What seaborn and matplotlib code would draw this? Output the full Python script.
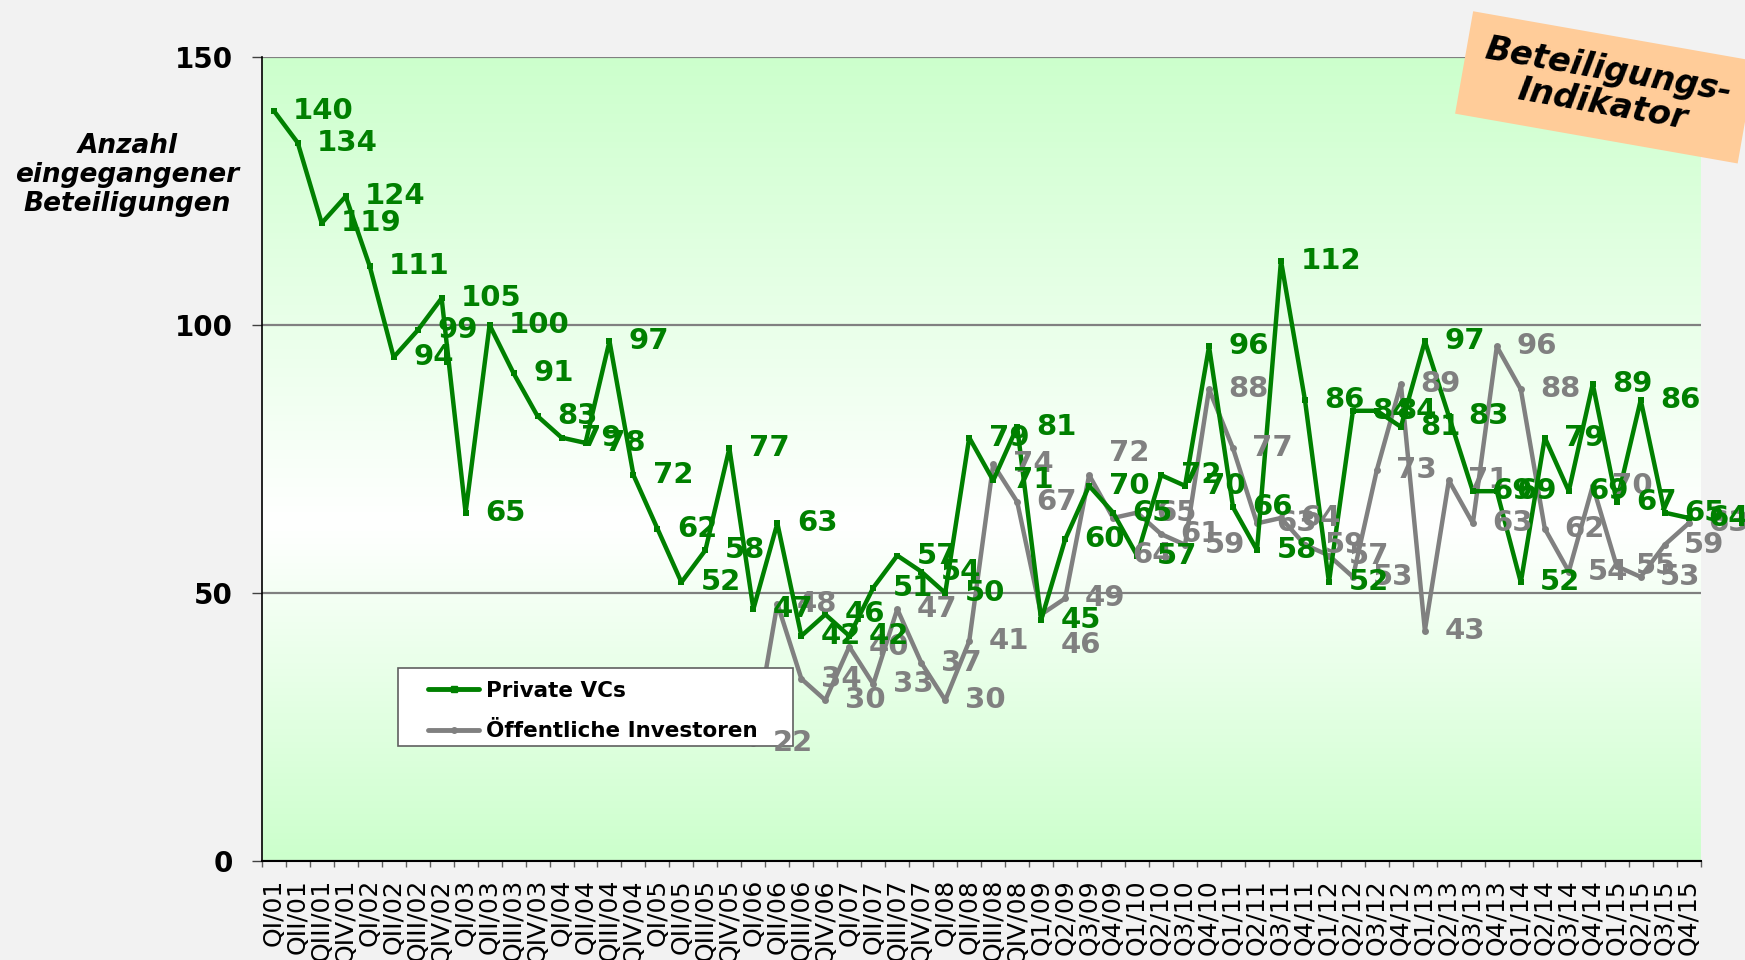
import numpy as np
import pandas as pd
import matplotlib.pyplot as plt
from matplotlib.colors import LinearSegmentedColormap
from matplotlib.lines import Line2D
from matplotlib.patches import Rectangle
import seaborn as sns

sns.set_theme(style="white")
plt.rcParams['font.family'] = ['DejaVu Sans']
plt.rcParams['text.color'] = 'black'
plt.rcParams['xtick.color'] = 'black'
plt.rcParams['ytick.color'] = 'black'

quarters = [
    'QI/01', 'QII/01', 'QIII/01', 'QIV/01', 'QI/02', 'QII/02', 'QIII/02', 'QIV/02',
    'QI/03', 'QII/03', 'QIII/03', 'QIV/03', 'QI/04', 'QII/04', 'QIII/04', 'QIV/04',
    'QI/05', 'QII/05', 'QIII/05', 'QIV/05', 'QI/06', 'QII/06', 'QIII/06', 'QIV/06',
    'QI/07', 'QII/07', 'QIII/07', 'QIV/07', 'QI/08', 'QII/08', 'QIII/08', 'QIV/08',
    'Q1/09', 'Q2/09', 'Q3/09', 'Q4/09', 'Q1/10', 'Q2/10', 'Q3/10', 'Q4/10',
    'Q1/11', 'Q2/11', 'Q3/11', 'Q4/11', 'Q1/12', 'Q2/12', 'Q3/12', 'Q4/12',
    'Q1/13', 'Q2/13', 'Q3/13', 'Q4/13', 'Q1/14', 'Q2/14', 'Q3/14', 'Q4/14',
    'Q1/15', 'Q2/15', 'Q3/15', 'Q4/15',
]

private_vcs = [140, 134, 119, 124, 111, 94, 99, 105, 65, 100,
               91, 83, 79, 78, 97, 72, 62, 52, 58, 77,
               47, 63, 42, 46, 42, 51, 57, 54, 50, 79,
               71, 81, 45, 60, 70, 65, 57, 72, 70, 96,
               66, 58, 112, 86, 52, 84, 84, 81, 97, 83,
               69, 69, 52, 79, 69, 89, 67, 86, 65, 64]

# Öffentliche Investoren start in QI/06
public_start = 'QI/06'
public_inv = [22, 48, 34, 30, 40, 33, 47, 37, 30, 41,
              74, 67, 46, 49, 72, 64, 65, 61, 59, 88,
              77, 63, 64, 59, 57, 53, 73, 89, 43, 71,
              63, 96, 88, 62, 54, 70, 55, 53, 59, 63]

# a few labels were moved by hand in the original (offset in points)
public_label_nudge = {'Q1/09': -22, 'Q3/09': 16, 'Q4/09': -27}

green = '#008000'
grey = '#808080'

pos = {q: i for i, q in enumerate(quarters)}
df_vc = pd.DataFrame({'quarter': quarters, 'value': private_vcs})
df_vc['x'] = df_vc['quarter'].map(pos)
pub_quarters = quarters[pos[public_start]:]
df_pub = pd.DataFrame({'quarter': pub_quarters, 'value': public_inv})
df_pub['x'] = df_pub['quarter'].map(pos)

fig = plt.figure(figsize=(17.45, 9.6), dpi=100)
fig.patch.set_facecolor('#f2f2f2')
ax = fig.add_axes([0.150, 0.1031, 0.8246, 0.8375])

# plot area gradient: green at top and bottom, white in between
bg = LinearSegmentedColormap.from_list('bg', [(0, '#ccffcc'), (0.42, '#ffffff'), (1, '#ccffcc')])
ax.imshow(np.linspace(0, 1, 256).reshape(-1, 1), extent=[-0.5, len(quarters) - 0.5, 0, 150],
          aspect='auto', origin='lower', cmap=bg, zorder=0)

sns.lineplot(data=df_pub, x='x', y='value', ax=ax, color=grey, lw=3.2, marker='o',
             markersize=5, markeredgewidth=0, zorder=3)
sns.lineplot(data=df_vc, x='x', y='value', ax=ax, color=green, lw=3.2, marker='s',
             markersize=5, markeredgewidth=0, zorder=4)

for _, r in df_pub.iterrows():
    dy = public_label_nudge.get(r['quarter'], 0)
    ax.annotate(str(r['value']), (r['x'], r['value']), xytext=(14, dy),
                textcoords='offset points', ha='left', va='center', fontsize=21,
                fontweight='bold', color=grey, zorder=11, annotation_clip=False)
for _, r in df_vc.iterrows():
    ax.annotate(str(r['value']), (r['x'], r['value']), xytext=(14, 0),
                textcoords='offset points', ha='left', va='center', fontsize=21,
                fontweight='bold', color=green, zorder=12, annotation_clip=False)

ax.set_xlim(-0.5, len(quarters) - 0.5)
ax.set_ylim(0, 150)
ax.set_xticks(range(len(quarters)))
ax.set_xticklabels(quarters, rotation=90, fontsize=18)
ax.set_xticks(np.arange(-0.5, len(quarters), 1), minor=True)
ax.tick_params(axis='x', which='major', length=0, pad=13)
ax.tick_params(axis='x', which='minor', length=4.5, width=1, color='#606060', bottom=True)
ax.set_yticks([0, 50, 100, 150])
ax.set_yticklabels(['0', '50', '100', '150'], fontsize=20, fontweight='bold')
ax.tick_params(axis='y', length=7, width=1, color='#404040', left=True, pad=14)
ax.set_xlabel('')
ax.set_ylabel('')

ax.yaxis.grid(True, color=grey, lw=1.6)
ax.xaxis.grid(False)
for s in ['top', 'right']:
    ax.spines[s].set_visible(False)
ax.spines['left'].set_color('black')
ax.spines['left'].set_linewidth(1.2)
ax.spines['bottom'].set_color('black')
ax.spines['bottom'].set_linewidth(1.5)

# legend box (wider than its content, as in the original)
ax.add_patch(Rectangle((0.0945, 0.143), 0.275, 0.097, transform=ax.transAxes,
                       fc='white', ec='#606060', lw=1.2, zorder=9))
handles = [Line2D([], [], color=green, lw=3.5, marker='s', markersize=5),
           Line2D([], [], color=grey, lw=3.5, marker='o', markersize=4)]
leg = ax.legend(handles, ['Private VCs', 'Öffentliche Investoren'], loc='upper left',
                bbox_to_anchor=(0.1154, 0.224), borderaxespad=0, borderpad=0,
                frameon=False, prop={'weight': 'bold', 'size': 15.5}, handlelength=2.4,
                handletextpad=0.3, labelspacing=0.95)
leg.set_zorder(10)

fig.text(0.073, 0.818, 'Anzahl\neingegangener\nBeteiligungen', ha='center', va='center',
         fontsize=19, fontweight='bold', style='italic', linespacing=1.15)

fig.text(0.920, 0.909, 'Beteiligungs-\nIndikator', ha='center', va='center', rotation=-10,
         fontsize=24, fontweight='bold', style='italic', linespacing=1.05,
         bbox=dict(boxstyle='square,pad=0.55', fc='#ffcc99', ec='none'))

fig.savefig('out.png', dpi=100, facecolor=fig.get_facecolor())
